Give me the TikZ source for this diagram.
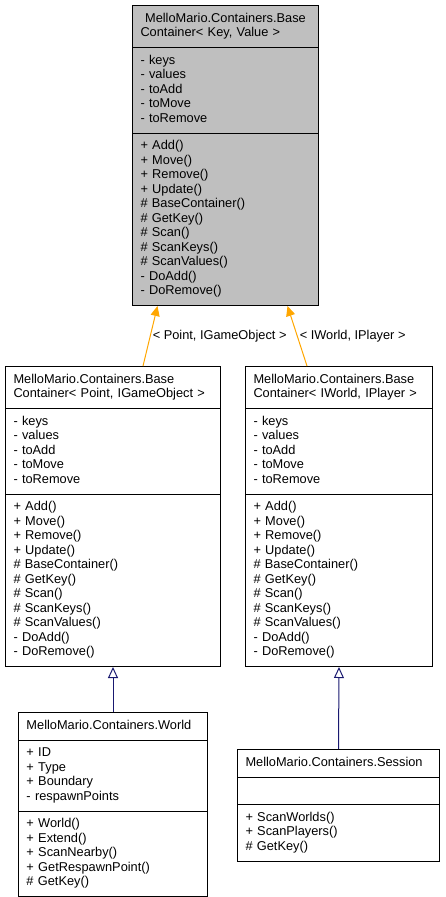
\documentclass[tikz,border=0pt]{standalone}
\usepackage{fontspec}
\setmainfont{Liberation Sans}
\usetikzlibrary{shapes.multipart, arrows.meta}
\definecolor{basegray}{rgb}{0.75, 0.75, 0.75}
\definecolor{tmplcolor}{rgb}{1.0, 0.65, 0.0}
\definecolor{inhcolor}{rgb}{0.1, 0.1, 0.44}

\tikzset{
  classbox/.style={rectangle split, rectangle split parts=3, draw, line width=1pt,
    anchor=north west, align=left, inner xsep=8pt, inner ysep=6pt,
    font=\fontsize{12.8}{14.5}\selectfont},
  tmpledge/.style={draw=tmplcolor, line width=1pt, -{Triangle[width=9pt,length=10pt,fill=tmplcolor]}},
  inhedge/.style={draw=inhcolor, line width=1pt, -{Triangle[open,width=10pt,length=11pt,fill=white]}},
  edgelabel/.style={font=\fontsize{12.8}{14.5}\selectfont, inner sep=2pt}
}

\begin{document}
\begin{tikzpicture}[x=1pt, y=1pt]
        \useasboundingbox (0,0) rectangle (445,-897);

        % template class
        \node[classbox, fill=basegray, text width=170pt] (base) at (132,-5) {
          \centering\strut MelloMario.Containers.Base\\Container< Key, Value >\strut
          \nodepart{two}\strut - keys\\- values\\- toAdd\\- toMove\\- toRemove\strut
          \nodepart{three}\strut + Add()\\+ Move()\\+ Remove()\\+ Update()\\\# BaseContainer()\\\# GetKey()\\\# Scan()\\\# ScanKeys()\\\# ScanValues()\\- DoAdd()\\- DoRemove()\strut};

        % instances
        \node[classbox, text width=199pt] (pointbox) at (5,-366) {
          \strut MelloMario.Containers.Base\\Container< Point, IGameObject >\strut
          \nodepart{two}\strut - keys\\- values\\- toAdd\\- toMove\\- toRemove\strut
          \nodepart{three}\strut + Add()\\+ Move()\\+ Remove()\\+ Update()\\\# BaseContainer()\\\# GetKey()\\\# Scan()\\\# ScanKeys()\\\# ScanValues()\\- DoAdd()\\- DoRemove()\strut};
        \node[classbox, text width=171pt] (worldbox) at (245,-366) {
          \strut MelloMario.Containers.Base\\Container< IWorld, IPlayer >\strut
          \nodepart{two}\strut - keys\\- values\\- toAdd\\- toMove\\- toRemove\strut
          \nodepart{three}\strut + Add()\\+ Move()\\+ Remove()\\+ Update()\\\# BaseContainer()\\\# GetKey()\\\# Scan()\\\# ScanKeys()\\\# ScanValues()\\- DoAdd()\\- DoRemove()\strut};

        % derived classes
        \node[classbox, text width=173pt] (World) at (18,-712) {
          \centering\strut MelloMario.Containers.World\strut
          \nodepart{two}\strut + ID\\+ Type\\+ Boundary\\- respawnPoints\strut
          \nodepart{three}\strut + World()\\+ Extend()\\+ ScanNearby()\\+ GetRespawnPoint()\\\# GetKey()\strut};
        \node[classbox, text width=186pt] (Session) at (237,-749) {
          \centering\strut MelloMario.Containers.Session\strut
          \nodepart{two}\strut
          \nodepart{three}\strut + ScanWorlds()\\+ ScanPlayers()\\\# GetKey()\strut};

        \draw[tmpledge] ([xshift=30pt]pointbox.north) -- node[edgelabel, right, midway] {< Point, IGameObject >} ([xshift=-68pt]base.south);
        \draw[tmpledge] ([xshift=-32pt]worldbox.north) -- node[edgelabel, right, midway] {< IWorld, IPlayer >} ([xshift=62pt]base.south);
        \draw[inhedge] (World.north) -- (pointbox.south);
        \draw[inhedge] (Session.north) -- (worldbox.south);
      \end{tikzpicture}
\end{document}
